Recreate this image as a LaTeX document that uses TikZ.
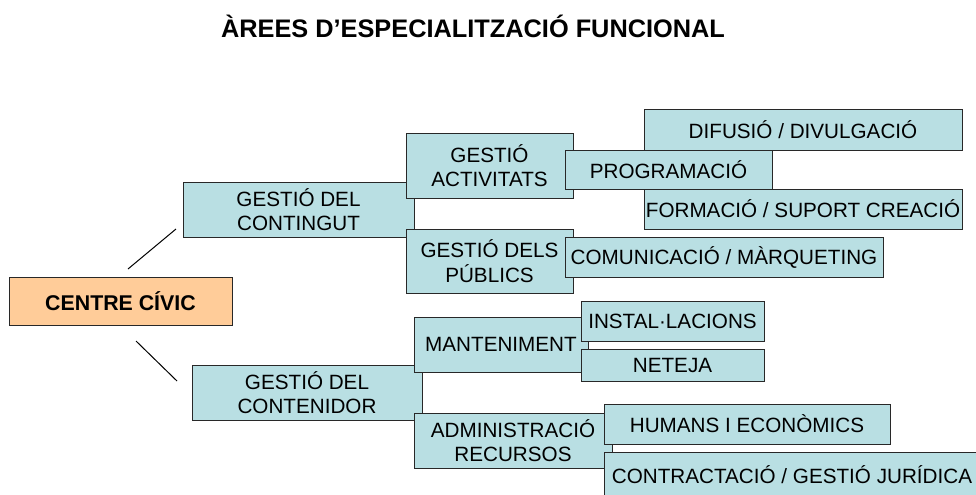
\documentclass[tikz,border=0pt]{standalone}
\usepackage{fontspec}
\setmainfont{Liberation Sans}
\definecolor{boxblue}{RGB}{185,223,227}
\definecolor{boxorange}{RGB}{255,204,153}
\definecolor{edge}{RGB}{40,40,40}
\newcommand\mybox[7][box]{%
  \node[#1, minimum width={(#5-#3)*0.75pt}, minimum height={(#6-#4)*0.75pt}]
    (#2) at ({(#3+#5)/2},{(#4+#6)/2}) {#7};}
\tikzset{
  box/.style={draw=edge, line width=0.75pt, fill=boxblue, inner sep=0pt,
    align=center, font=\fontsize{15.5}{18.2}\selectfont},
  rootbox/.style={box, fill=boxorange, font=\fontsize{16}{19}\selectfont\bfseries},
  link/.style={draw=black, line width=0.75pt}
}
\begin{document}
\begin{tikzpicture}[x=0.75pt,y=-0.75pt]
\clip (0,0) rectangle (976,494);
\fill[white] (0,0) rectangle (976,494);
\node[anchor=base, font=\fontsize{19}{22}\selectfont\bfseries] (title) at (473,37) {ÀREES D’ESPECIALITZACIÓ FUNCIONAL};
% root
\mybox[rootbox]{root}{9}{277}{232}{325}{CENTRE CÍVIC}
\coordinate (l1a) at (128,269); \coordinate (l1b) at (176,229);
\coordinate (l2a) at (136,341); \coordinate (l2b) at (177,381);
\draw[link] (l1a) -- (l1b);
\draw[link] (l2a) -- (l2b);
% upper branch
\mybox{contingut}{183}{182}{414}{237}{GESTIÓ DEL\\CONTINGUT}
\mybox{activitats}{406}{133}{573}{198}{GESTIÓ\\ACTIVITATS}
\mybox{publics}{406}{229}{573}{293}{GESTIÓ DELS\\PÚBLICS}
\mybox{difusio}{644}{109}{962}{150}{DIFUSIÓ / DIVULGACIÓ}
\mybox{formacio}{644}{189}{962}{229}{FORMACIÓ / SUPORT CREACIÓ}
\mybox{programacio}{565}{150}{772}{189}{PROGRAMACIÓ}
\mybox{comunicacio}{565}{237}{883}{277}{COMUNICACIÓ / MÀRQUETING}
% lower branch
\mybox{contenidor}{192}{365}{422}{420}{GESTIÓ DEL\\CONTENIDOR}
\mybox{manteniment}{414}{317}{588}{372}{MANTENIMENT}
\mybox{administracio}{414}{413}{612}{468}{ADMINISTRACIÓ\\RECURSOS}
\mybox{installacions}{581}{301}{764}{341}{INSTAL·LACIONS}
\mybox{neteja}{581}{349}{764}{381}{NETEJA}
\mybox{humans}{604}{404}{890}{444}{HUMANS I ECONÒMICS}
\mybox{contractacio}{604}{452}{980}{498}{CONTRACTACIÓ / GESTIÓ JURÍDICA}
\end{tikzpicture}
\end{document}
